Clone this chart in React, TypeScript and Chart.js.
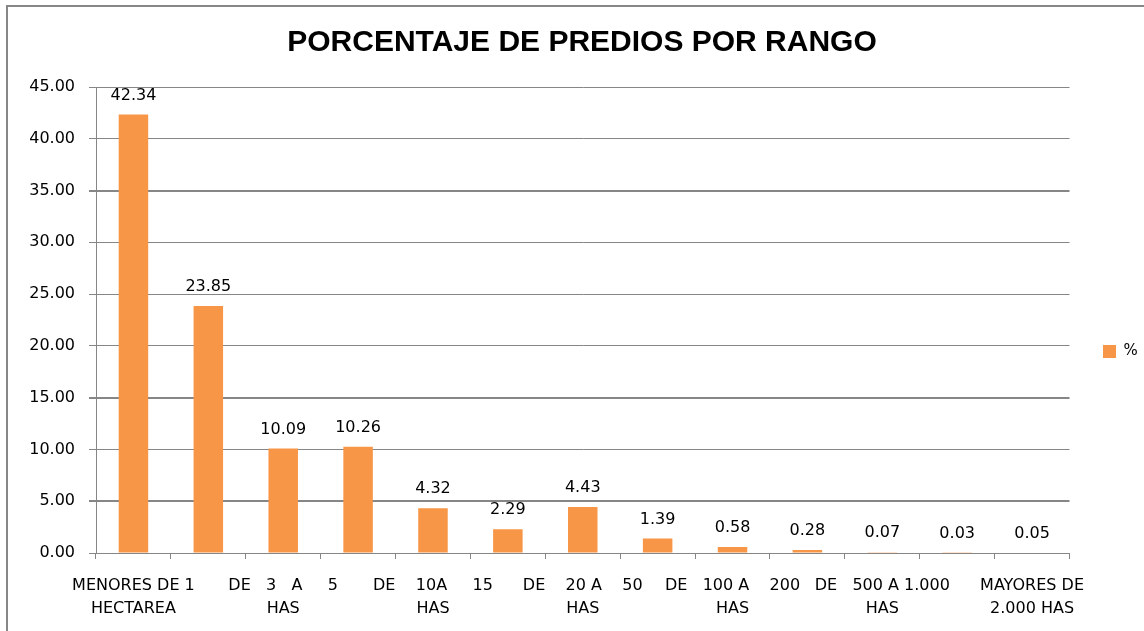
import React, { useEffect, useRef } from "react";
import { Chart, registerables } from "chart.js";

Chart.register(...registerables);

const TITLE = "PORCENTAJE DE PREDIOS POR RANGO";
const SERIES_LABEL = "%";

const categories = [
  "MENORES DE 1 HECTAREA",
  "DE 1 A 3 HAS",
  "DE 3 A 5 HAS",
  "DE 5 A 10 HAS",
  "DE 10 A 15 HAS",
  "DE 15 A 20 HAS",
  "DE 20 A 50 HAS",
  "DE 50 A 100 HAS",
  "DE 100 A 200 HAS",
  "DE 200 A 500 HAS",
  "DE 500 A 1.000 HAS",
  "DE 1.000 A 2.000 HAS",
  "MAYORES DE 2.000 HAS",
];

const values = [42.34, 23.85, 10.09, 10.26, 4.32, 2.29, 4.43, 1.39, 0.58, 0.28, 0.07, 0.03, 0.05];

// Visible tick text as it appears in the original (only every other category is labelled)
const tickLabels: string[][] = [
  ["MENORES DE 1", "HECTAREA"],
  [""],
  ["DE   3   A     5", "HAS"],
  [""],
  ["DE    10A     15", "HAS"],
  [""],
  ["DE    20 A    50", "HAS"],
  [""],
  ["DE   100 A    200", "HAS"],
  [""],
  ["DE   500 A 1.000", "HAS"],
  [""],
  ["MAYORES DE", "2.000 HAS"],
];

const yTicks = [0, 5, 10, 15, 20, 25, 30, 35, 40, 45];

const BAR_COLOR = "#F79646";
const GRID_COLOR = "#868686";
const FONT = "'DejaVu Sans', sans-serif";

export default function App() {
  const ref = useRef<HTMLCanvasElement | null>(null);

  useEffect(() => {
    document.body.style.margin = "0";
    const canvas = ref.current;
    if (!canvas) return;

    const frame = {
      id: "frame",
      beforeDraw(chart: any) {
        const ctx = chart.ctx;
        ctx.save();
        ctx.fillStyle = "#ffffff";
        ctx.fillRect(0, 0, chart.width, chart.height);
        ctx.strokeStyle = "#878787";
        ctx.lineWidth = 2;
        ctx.beginPath();
        ctx.moveTo(7, chart.height);
        ctx.lineTo(7, 6);
        ctx.lineTo(chart.width, 6);
        ctx.stroke();
        ctx.restore();
      },
    };

    const valueLabels = {
      id: "valueLabels",
      afterDatasetsDraw(chart: any) {
        const ctx = chart.ctx;
        const meta = chart.getDatasetMeta(0);
        const data = chart.data.datasets[0].data as number[];
        ctx.save();
        ctx.font = `16px ${FONT}`;
        ctx.fillStyle = "#000";
        ctx.textAlign = "center";
        ctx.textBaseline = "middle";
        meta.data.forEach((el: any, i: number) => {
          ctx.fillText(data[i].toFixed(2), el.x, el.y - 19);
        });
        ctx.restore();
      },
    };

    const chart = new Chart(canvas, {
      type: "bar",
      data: {
        labels: categories,
        datasets: [
          {
            label: SERIES_LABEL,
            data: values,
            backgroundColor: BAR_COLOR,
            borderWidth: 0,
            barPercentage: 0.394,
            categoryPercentage: 1,
          },
        ],
      },
      options: {
        responsive: false,
        animation: false,
        layout: { padding: { left: 20, right: 0, top: 0, bottom: 0 } },
        plugins: {
          tooltip: { enabled: false },
          legend: {
            display: true,
            position: "right",
            maxWidth: 74.5,
            title: {
              display: true,
              text: " ",
              font: { size: 12, lineHeight: 1 },
              padding: { top: 0, bottom: 60 },
            },
            labels: {
              boxWidth: 13,
              boxHeight: 13,
              padding: 33.5,
              color: "#000",
              font: { family: FONT, size: 15 },
            },
          },
          title: {
            display: true,
            text: TITLE,
            color: "#000",
            font: { family: "'Liberation Sans', Arial, sans-serif", size: 30, weight: "bold", lineHeight: 1.2 },
            padding: { top: 25, bottom: 26 },
          },
        },
        scales: {
          x: {
            grid: {
              offset: true,
              drawOnChartArea: false,
              drawTicks: true,
              tickLength: 6,
              color: GRID_COLOR,
            },
            border: { color: GRID_COLOR },
            ticks: {
              autoSkip: false,
              maxRotation: 0,
              minRotation: 0,
              padding: 15,
              color: "#000",
              font: { family: FONT, size: 16, lineHeight: 1.4375 },
              callback: (_v: any, i: number) => tickLabels[i],
            },
            afterFit: (scale: any) => {
              scale.height = 78;
            },
          },
          y: {
            min: 0,
            max: 45,
            afterBuildTicks: (scale: any) => {
              scale.ticks = yTicks.map((v) => ({ value: v }));
            },
            grid: {
              color: GRID_COLOR,
              tickLength: 7,
              lineWidth: (ctx: any) => ([35, 15, 5].includes(ctx.tick?.value) ? 2 : 1),
            },
            border: { color: GRID_COLOR },
            ticks: {
              padding: 14,
              color: "#000",
              font: { family: FONT, size: 16 },
              callback: (v: any) => Number(v).toFixed(2),
            },
            afterFit: (scale: any) => {
              scale.width = 76;
            },
          },
        },
      },
      plugins: [frame, valueLabels],
    });

    return () => chart.destroy();
  }, []);

  return (
    <div style={{ width: 1144, height: 631 }}>
      <canvas ref={ref} width={1144} height={631} style={{ display: "block" }} />
    </div>
  );
}
